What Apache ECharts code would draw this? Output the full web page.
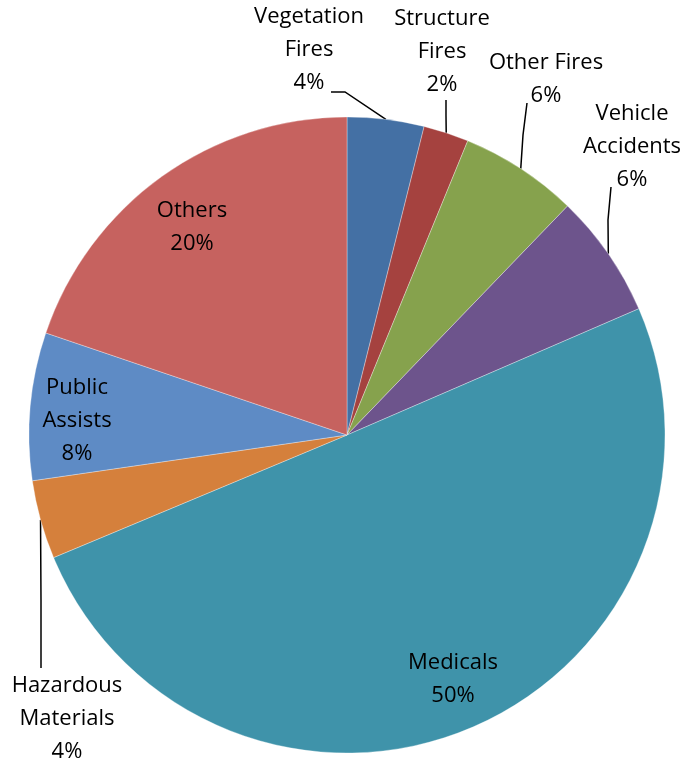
<!DOCTYPE html>
<html>
<head>
<meta charset="utf-8">
<script src="https://cdn.jsdelivr.net/npm/echarts@6/dist/echarts.min.js"></script>
<style>
  html, body { margin: 0; padding: 0; background: #fff; }
  #chart_box { width: 687px; height: 763px; }
</style>
</head>
<body>
<div id="chart_box"></div>
<script>
// categories and shares (percent), clockwise from 12 o'clock
var categories = ['Vegetation\nFires', 'Structure\nFires', 'Other Fires', 'Vehicle\nAccidents',
                  'Medicals', 'Hazardous\nMaterials', 'Public\nAssists', 'Others'];
var shares = [3.9, 2.3, 6.0, 6.3, 50.2, 4.0, 7.5, 19.8];
var colors = ['#4470A4', '#A5423F', '#86A24D', '#6D548C', '#3F93AA', '#D5803C', '#5E8BC5', '#C6625F'];

// label placement (centre of the text block) and leader line bends
var labelPos = [
    { x: 309, y: 50, line: [[345, 92], [331, 92]] },
    { x: 442, y: 52, line: [[446, 116], [446, 100]] },
    { x: 546, y: 79, line: [[523, 135], [527, 103]] },
    { x: 632, y: 147, line: [[608, 220], [611, 187]] },
    { x: 453, y: 679 },
    { x: 67, y: 719, line: [[41, 600], [41, 668]] },
    { x: 77, y: 421 },
    { x: 192, y: 227 }
];

var myChart1 = echarts.init(document.getElementById('chart_box'));

var pieData = categories.map(function (name, i) {
    var outside = !!labelPos[i].line;
    return {
        name: name,
        value: shares[i],
        itemStyle: { color: colors[i] },
        label: { position: outside ? 'outside' : 'inside' },
        labelLine: { show: outside }
    };
});

var option = {
    animation: false,
    series: [
        {
            type: 'pie',
            center: [347, 435],
            radius: 318,
            startAngle: 90,
            clockwise: true,
            avoidLabelOverlap: false,
            data: pieData,
            itemStyle: {
                borderColor: 'rgba(255,255,255,0.4)',
                borderWidth: 0.8
            },
            label: {
                show: true,
                formatter: function (p) {
                    return p.name + '\n' + Math.round(p.percent) + '%';
                },
                color: '#000',
                fontFamily: 'Open Sans',
                fontSize: 22,
                lineHeight: 33,
                align: 'center'
            },
            labelLine: {
                show: true,
                length: 20,
                length2: 10,
                lineStyle: { color: '#000', width: 1.5 }
            },
            labelLayout: function (params) {
                var lp = labelPos[params.dataIndex];
                var out = { x: lp.x, y: lp.y, align: 'center', verticalAlign: 'middle' };
                if (lp.line && params.labelLinePoints) {
                    out.labelLinePoints = [params.labelLinePoints[0], lp.line[0], lp.line[1]];
                }
                return out;
            }
        }
    ]
};

myChart1.setOption(option);
</script>
</body>
</html>
